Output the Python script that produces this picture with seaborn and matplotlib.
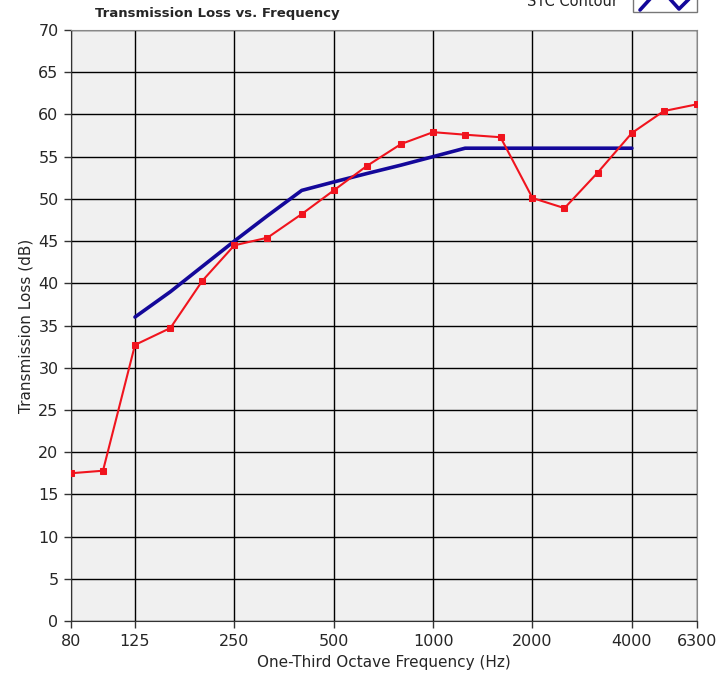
import matplotlib
matplotlib.use("Agg")
import matplotlib.pyplot as plt
from matplotlib.lines import Line2D
from matplotlib.patches import Rectangle
from matplotlib.ticker import FixedLocator, NullLocator
import seaborn as sns
import pandas as pd

# One-third octave bands and measured transmission loss (dB)
freqs = [80, 100, 125, 160, 200, 250, 315, 400, 500, 630,
         800, 1000, 1250, 1600, 2000, 2500, 3150, 4000, 5000, 6300]
tl_measured = [17.5, 17.8, 32.7, 34.7, 40.3, 44.5, 45.4, 48.2, 51.0, 53.9,
               56.5, 57.9, 57.6, 57.3, 50.1, 48.9, 53.1, 57.8, 60.4, 61.2]

# STC reference contour (STC 52)
stc_freqs = [125, 160, 200, 250, 315, 400, 500, 630,
             800, 1000, 1250, 1600, 2000, 2500, 3150, 4000]
stc_contour = [36, 39, 42, 45, 48, 51, 52, 53,
               54, 55, 56, 56, 56, 56, 56, 56]

tick_freqs = [80, 125, 250, 500, 1000, 2000, 4000, 6300]
y_ticks = list(range(0, 75, 5))

measured = pd.DataFrame({"freq": freqs, "tl": tl_measured})
contour = pd.DataFrame({"freq": stc_freqs, "tl": stc_contour})

sns.set_style("white")
plt.rcParams["font.family"] = ["DejaVu Sans"]

fig = plt.figure(figsize=(7.23, 6.83), dpi=100)
ax = fig.add_axes([71 / 723, 1 - 621 / 683, 626 / 723, 591 / 683])
ax.set_facecolor("#f0f0f0")

sns.lineplot(data=contour, x="freq", y="tl", ax=ax, color="#14089a",
             linewidth=2.6, zorder=3)
sns.lineplot(data=measured, x="freq", y="tl", ax=ax, color="#f0141e",
             linewidth=1.5, marker="s", markersize=4.5,
             markeredgecolor="#f0141e", zorder=4)

ax.set_xscale("log")
ax.set_xlim(80, 6300)
ax.set_ylim(0, 70)
ax.xaxis.set_major_locator(FixedLocator(tick_freqs))
ax.xaxis.set_minor_locator(NullLocator())
ax.set_xticklabels([str(f) for f in tick_freqs])
ax.set_yticks(y_ticks)

ax.grid(True, color="black", linewidth=1.0)
ax.set_axisbelow(True)
for side in ["top", "right"]:
    ax.spines[side].set_color("#888888")
for side in ["left", "bottom"]:
    ax.spines[side].set_color("#333333")

ax.tick_params(axis="both", direction="out", length=5, width=1,
               color="#333333", labelsize=11.5, pad=4,
               bottom=True, left=True)
ax.set_xlabel("One-Third Octave Frequency (Hz)", fontsize=11, labelpad=5)
ax.set_ylabel("Transmission Loss (dB)", fontsize=11, labelpad=3)

# title
fig.text(95 / 723, 1 - 13 / 683, "Transmission Loss vs. Frequency",
         fontsize=9.5, fontweight="bold", va="center", ha="left")

# legend, cut off by the top edge as in the original
fig.text(618 / 723, 1 - 1 / 683, "STC Contour", fontsize=10.5,
         va="center", ha="right", color="#222222")
fig.patches.append(Rectangle((633 / 723, 1 - 12 / 683), 64 / 723, 20 / 683,
                             transform=fig.transFigure, facecolor="white",
                             edgecolor="#777777", linewidth=1))
fig.lines.append(Line2D([640 / 723, 650 / 723], [1 - 10 / 683, 1 + 1 / 683],
                        transform=fig.transFigure, color="#14089a", linewidth=2.6))
fig.lines.append(Line2D([670 / 723, 679 / 723, 690 / 723],
                        [1 + 1 / 683, 1 - 9 / 683, 1 + 2 / 683],
                        transform=fig.transFigure, color="#14089a", linewidth=2.6))

fig.savefig("out.png", dpi=100)
